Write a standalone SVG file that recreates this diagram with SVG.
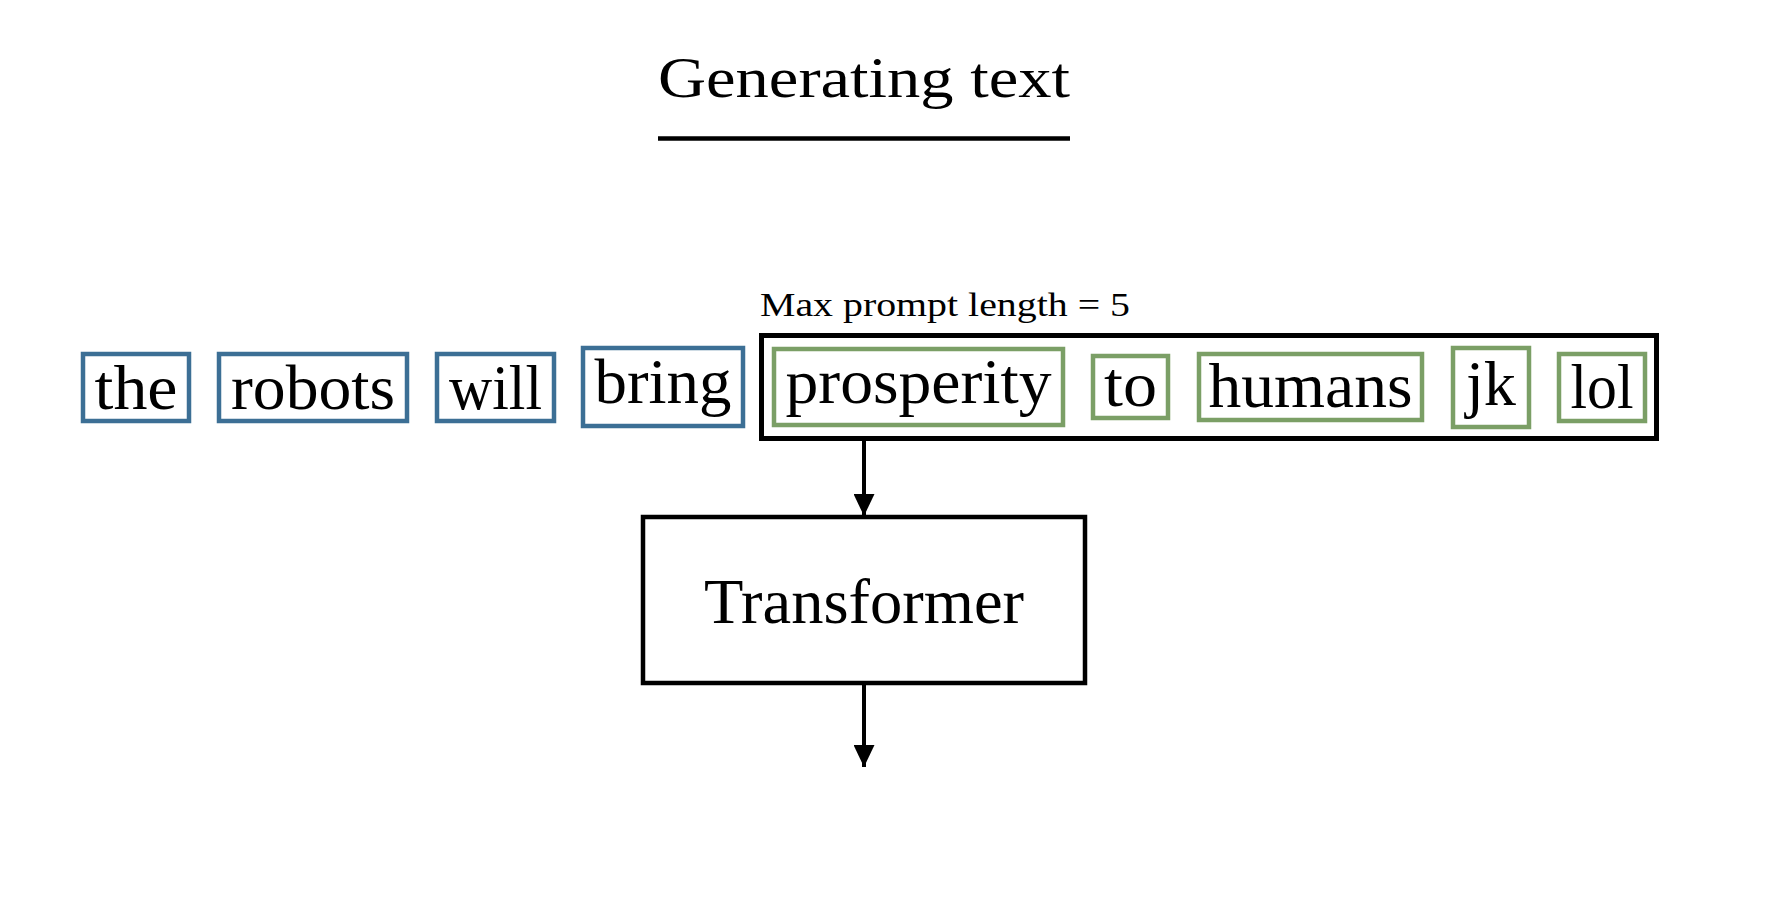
<svg xmlns="http://www.w3.org/2000/svg" width="1772" height="916" viewBox="0 0 1772 916">
<style>
  .tok { fill: #ffffff; stroke-width: 4.5; }
  .blue { stroke: #3c6f95; }
  .green { stroke: #7b9f66; }
  .t { font-family: "Liberation Serif", "DejaVu Serif", serif; fill: #000; text-anchor: middle; }
  .tokt { font-size: 64px; }
  .frame { fill: none; stroke: #000; stroke-width: 5; }
  .conn { stroke: #000; stroke-width: 4; fill: none; }
</style>
<defs>
  <marker id="arr" viewBox="0 0 22 21" refX="22" refY="10.5" markerWidth="22" markerHeight="21" markerUnits="userSpaceOnUse" orient="auto">
    <path d="M0,0 L22,10.5 L0,21 Z" fill="#000"/>
  </marker>
</defs>
<rect width="1772" height="916" fill="#ffffff"/>

<g id="title">
  <text class="t" x="864" y="97" font-size="58" textLength="412" lengthAdjust="spacingAndGlyphs">Generating text</text>
  <line x1="658" y1="138.5" x2="1070" y2="138.5" stroke="#000" stroke-width="4.5"/>
</g>

<g id="window">
  <rect class="frame" x="761.5" y="335.5" width="895" height="103"/>
  <text class="t" x="945" y="316" font-size="34" textLength="370" lengthAdjust="spacingAndGlyphs">Max prompt length = 5</text>
</g>

<g id="tok-the">
  <rect class="tok blue" x="83" y="354" width="106" height="67"/>
  <text class="t tokt" x="136" y="409" textLength="83" lengthAdjust="spacingAndGlyphs">the</text>
</g>
<g id="tok-robots">
  <rect class="tok blue" x="219" y="354" width="188" height="67"/>
  <text class="t tokt" x="313" y="409" textLength="164" lengthAdjust="spacingAndGlyphs">robots</text>
</g>
<g id="tok-will">
  <rect class="tok blue" x="437" y="354" width="117" height="67"/>
  <text class="t tokt" x="495.5" y="409" textLength="93" lengthAdjust="spacingAndGlyphs">will</text>
</g>
<g id="tok-bring">
  <rect class="tok blue" x="583" y="348" width="160" height="78"/>
  <text class="t tokt" x="663" y="403" textLength="137" lengthAdjust="spacingAndGlyphs">bring</text>
</g>
<g id="tok-prosperity">
  <rect class="tok green" x="774" y="349" width="289" height="76"/>
  <text class="t tokt" x="918.5" y="403" textLength="266" lengthAdjust="spacingAndGlyphs">prosperity</text>
</g>
<g id="tok-to">
  <rect class="tok green" x="1093" y="356" width="75" height="62"/>
  <text class="t tokt" x="1130.5" y="406" textLength="53" lengthAdjust="spacingAndGlyphs">to</text>
</g>
<g id="tok-humans">
  <rect class="tok green" x="1199" y="354" width="223" height="66"/>
  <text class="t tokt" x="1310.5" y="407" textLength="204" lengthAdjust="spacingAndGlyphs">humans</text>
</g>
<g id="tok-jk">
  <rect class="tok green" x="1453" y="348" width="76" height="79"/>
  <text class="t tokt" x="1491" y="405" textLength="50" lengthAdjust="spacingAndGlyphs">jk</text>
</g>
<g id="tok-lol">
  <rect class="tok green" x="1559" y="354" width="86" height="67"/>
  <text class="t tokt" x="1602" y="408" textLength="63" lengthAdjust="spacingAndGlyphs">lol</text>
</g>

<g id="transformer">
  <rect x="643" y="517" width="442" height="166" fill="#ffffff" stroke="#000" stroke-width="4.5"/>
  <text class="t" x="864" y="623" font-size="64" textLength="320" lengthAdjust="spacingAndGlyphs">Transformer</text>
</g>

<g id="connectors">
  <line class="conn" x1="864" y1="441" x2="864" y2="516" marker-end="url(#arr)"/>
  <line class="conn" x1="864" y1="685" x2="864" y2="767" marker-end="url(#arr)"/>
</g>
</svg>
